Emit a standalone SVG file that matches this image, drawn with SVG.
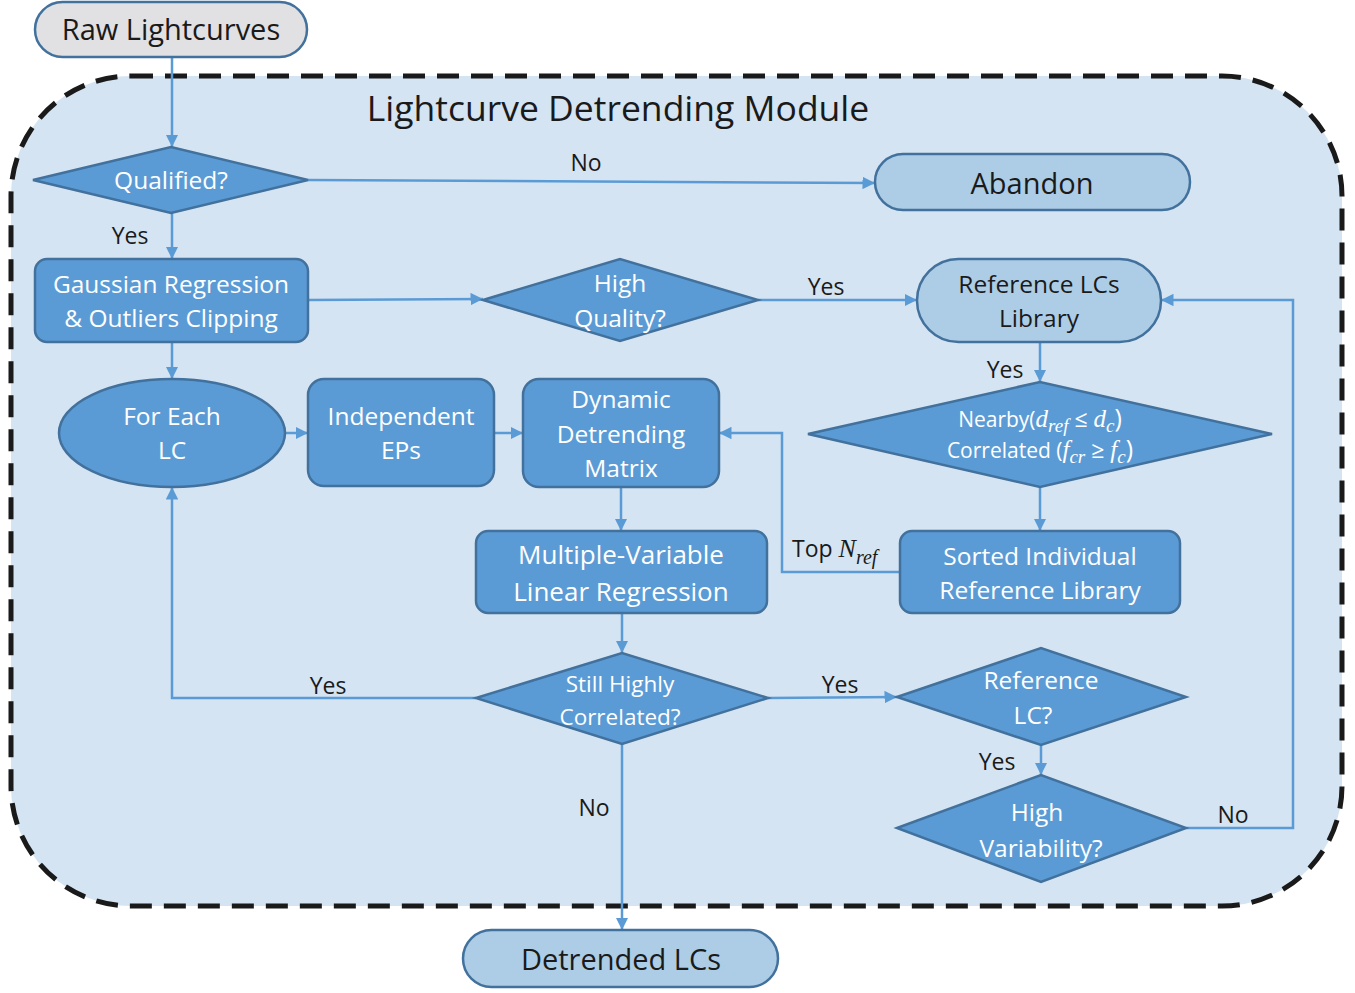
<svg xmlns="http://www.w3.org/2000/svg" width="1355" height="993" viewBox="0 0 1355 993">
<style>
.n{fill:#5B9BD5;stroke:#41719C;stroke-width:2.5}
.l{fill:#ADCDE6;stroke:#41719C;stroke-width:2.5}
.g{fill:#E1E0E3;stroke:#41719C;stroke-width:2.5}
.c{fill:none;stroke:#5B9BD5;stroke-width:2.5}
.t{font-family:"Open Sans","Liberation Sans",sans-serif;fill:#fff;font-size:24.5px;text-anchor:middle}
.d{font-family:"Open Sans","Liberation Sans",sans-serif;fill:#1a1a1a;text-anchor:middle}
.k{font-family:"Open Sans","Liberation Sans",sans-serif;fill:#1a1a1a;font-size:23px;text-anchor:middle}
.m{font-family:"Liberation Serif",serif;font-style:italic}
</style>
<defs>
<marker id="a" viewBox="0 0 10 10" refX="10" refY="5" markerWidth="5" markerHeight="5" orient="auto" markerUnits="strokeWidth">
<path d="M0,0 L10,5 L0,10 z" fill="#5B9BD5"/>
</marker>
</defs>
<rect width="1355" height="993" fill="#fff"/>
<g id="module">
<rect x="11" y="76" width="1331" height="830" rx="120" ry="120" fill="#D5E4F2" stroke="#1a1a1a" stroke-width="5" stroke-dasharray="22,12"/>
<text x="618" y="121" class="d" font-size="35.5">Lightcurve Detrending Module</text>
</g>
<g id="connectors">
<path class="c" marker-end="url(#a)" d="M172,57 V147"/>
<path class="c" marker-end="url(#a)" d="M308,180 L875,183"/>
<path class="c" marker-end="url(#a)" d="M172,213 V259"/>
<path class="c" marker-end="url(#a)" d="M308,300 L483,299"/>
<path class="c" marker-end="url(#a)" d="M758,300 H917"/>
<path class="c" marker-end="url(#a)" d="M172,342 V379"/>
<path class="c" marker-end="url(#a)" d="M285,433 H308"/>
<path class="c" marker-end="url(#a)" d="M494,433 H523"/>
<path class="c" marker-end="url(#a)" d="M1040,342 V382"/>
<path class="c" marker-end="url(#a)" d="M1040,487 V531"/>
<path class="c" marker-end="url(#a)" d="M900,572 H782 V433 H719"/>
<path class="c" marker-end="url(#a)" d="M621,487 V531"/>
<path class="c" marker-end="url(#a)" d="M622,613 V653"/>
<path class="c" marker-end="url(#a)" d="M476,698 H172 V487"/>
<path class="c" marker-end="url(#a)" d="M768,698 L897,697"/>
<path class="c" marker-end="url(#a)" d="M622,744 V930"/>
<path class="c" marker-end="url(#a)" d="M1041,745 V775"/>
<path class="c" marker-end="url(#a)" d="M1186,828 H1293 V300 H1161"/>
<text x="586" y="171" class="k">No</text>
<text x="130" y="244" class="k">Yes</text>
<text x="826" y="295" class="k">Yes</text>
<text x="1005" y="378" class="k">Yes</text>
<text x="328" y="694" class="k">Yes</text>
<text x="840" y="693" class="k">Yes</text>
<text x="594" y="816" class="k">No</text>
<text x="997" y="770" class="k">Yes</text>
<text x="1233" y="823" class="k">No</text>
<text x="792" y="557" class="k" style="text-anchor:start">Top <tspan class="m" font-size="26">N</tspan><tspan class="m" font-size="20" dy="7">ref</tspan></text>
</g>
<g id="raw">
<rect class="g" x="35" y="2" width="272" height="55" rx="27.5"/>
<text x="171" y="40" class="d" font-size="29">Raw Lightcurves</text>
</g>
<g id="qualified">
<polygon class="n" points="33,180 171,147 308,180 171,213"/>
<text x="171" y="189" class="t">Qualified?</text>
</g>
<g id="abandon">
<rect class="l" x="875" y="154" width="315" height="56" rx="28"/>
<text x="1032" y="194" class="d" font-size="29">Abandon</text>
</g>
<g id="gaussian">
<rect class="n" x="35" y="259" width="273" height="83" rx="12"/>
<text x="171" y="293" class="t">Gaussian Regression</text>
<text x="171" y="327" class="t">&amp; Outliers Clipping</text>
</g>
<g id="highquality">
<polygon class="n" points="483,300 620,259 758,300 620,341"/>
<text x="620" y="292" class="t">High</text>
<text x="620" y="327" class="t">Quality?</text>
</g>
<g id="reflib">
<rect class="l" x="917" y="259" width="244" height="83" rx="41.5"/>
<text x="1039" y="293" class="d" font-size="24.5">Reference LCs</text>
<text x="1039" y="327" class="d" font-size="24.5">Library</text>
</g>
<g id="foreach">
<ellipse class="n" cx="172" cy="433" rx="113" ry="54"/>
<text x="172" y="425" class="t">For Each</text>
<text x="172" y="459" class="t">LC</text>
</g>
<g id="indep">
<rect class="n" x="308" y="379" width="186" height="107" rx="16"/>
<text x="401" y="425" class="t">Independent</text>
<text x="401" y="459" class="t">EPs</text>
</g>
<g id="ddm">
<rect class="n" x="523" y="379" width="196" height="108" rx="16"/>
<text x="621" y="408" class="t">Dynamic</text>
<text x="621" y="443" class="t">Detrending</text>
<text x="621" y="477" class="t">Matrix</text>
</g>
<g id="nearby">
<polygon class="n" points="808,434 1040,382 1272,434 1040,487"/>
<text x="1040" y="427" class="t" style="font-size:21px">Nearby(<tspan class="m" font-size="25">d</tspan><tspan class="m" font-size="19" dy="5">ref</tspan><tspan dy="-5" font-size="23">&#160;≤&#160;</tspan><tspan class="m" font-size="25">d</tspan><tspan class="m" font-size="19" dy="5">c</tspan><tspan dy="-5" font-size="25">)</tspan></text>
<text x="1040" y="458" class="t" style="font-size:21px">Correlated (<tspan class="m" font-size="25">f</tspan><tspan class="m" font-size="19" dy="5">cr</tspan><tspan dy="-5" font-size="23">&#160;≥&#160;</tspan><tspan class="m" font-size="25">f</tspan><tspan class="m" font-size="19" dy="5">c</tspan><tspan dy="-5" font-size="25">)</tspan></text>
</g>
<g id="mvlr">
<rect class="n" x="476" y="531" width="291" height="82" rx="12"/>
<text x="621" y="564" class="t" style="font-size:26px">Multiple-Variable</text>
<text x="621" y="601" class="t" style="font-size:26px">Linear Regression</text>
</g>
<g id="sorted">
<rect class="n" x="900" y="531" width="280" height="82" rx="12"/>
<text x="1040" y="565" class="t">Sorted Individual</text>
<text x="1040" y="599" class="t">Reference Library</text>
</g>
<g id="still">
<polygon class="n" points="476,698 622,653 768,698 622,744"/>
<text x="620" y="692" class="t" style="font-size:22.5px">Still Highly</text>
<text x="620" y="725" class="t" style="font-size:22.5px">Correlated?</text>
</g>
<g id="reflc">
<polygon class="n" points="897,697 1041,648 1186,697 1041,745"/>
<text x="1041" y="689" class="t">Reference</text>
<text x="1033" y="724" class="t">LC?</text>
</g>
<g id="highvar">
<polygon class="n" points="897,828 1041,775 1186,828 1041,882"/>
<text x="1037" y="821" class="t">High</text>
<text x="1041" y="857" class="t">Variability?</text>
</g>
<g id="detrended">
<rect class="l" x="463" y="930" width="315" height="57" rx="28.5"/>
<text x="621" y="970" class="d" font-size="29">Detrended LCs</text>
</g>
</svg>
